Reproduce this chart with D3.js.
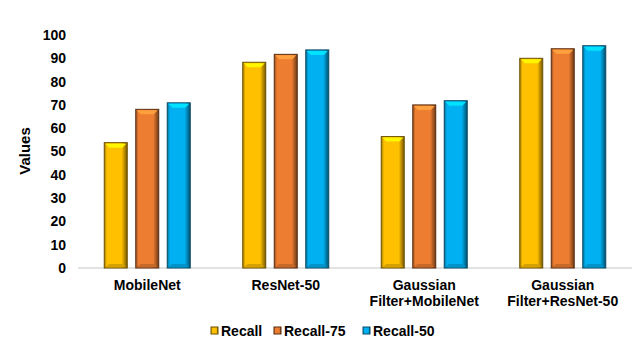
<!DOCTYPE html>
<html>
<head>
<meta charset="utf-8">
<script src="https://cdn.jsdelivr.net/npm/d3@7"></script>
<style>
  body { margin: 0; background: #fff; }
  text { font-family: "Liberation Sans", Arial, sans-serif; font-weight: bold; fill: #000; }
</style>
</head>
<body>
<div class="chart"></div>
<script>
const categories = [["MobileNet"], ["ResNet-50"], ["Gaussian", "Filter+MobileNet"], ["Gaussian", "Filter+ResNet-50"]];
const seriesNames = ["Recall", "Recall-75", "Recall-50"];
const recall   = [53.8, 88.3, 56.4, 90.0];
const recall75 = [68.1, 91.7, 70.0, 94.1];
const recall50 = [70.9, 93.6, 71.8, 95.4];
const yTicks = [0, 10, 20, 30, 40, 50, 60, 70, 80, 90, 100];

const colors = ["#FFC000", "#ED7D31", "#00B0F0"];
const darks  = ["#6b5000", "#5a2d10", "#0a4a66"];

const margin = ({top: 35, right: 9, bottom: 84, left: 78});
const width = 641 - margin.left - margin.right;
const height = 352 - margin.top - margin.bottom;

const svg = d3.select('.chart').append('svg')
    .attr("width", 641)
    .attr("height", 352);

const defs = svg.append("defs");
colors.forEach((c, i) => {
    const g = defs.append("linearGradient").attr("id", "grad" + i)
        .attr("x1", "0").attr("x2", "1").attr("y1", "0").attr("y2", "0");
    g.append("stop").attr("offset", "0%").attr("stop-color", d3.color(c).darker(1.2));
    g.append("stop").attr("offset", "12%").attr("stop-color", c);
    g.append("stop").attr("offset", "76%").attr("stop-color", c);
    g.append("stop").attr("offset", "100%").attr("stop-color", d3.color(c).darker(2.2));
});

const plot = svg.append("g")
    .attr("transform", "translate(" + margin.left + "," + margin.top + ")");

const data = categories.map((c, i) => ({cat: i, values: [recall[i], recall75[i], recall50[i]]}));

const xScale = d3.scaleBand()
    .domain(d3.range(categories.length))
    .range([0, width]);

const xInner = d3.scaleBand()
    .domain(d3.range(seriesNames.length))
    .range([0, 86])
    .paddingInner(0.27);

const yScale = d3.scaleLinear()
    .domain([0, 100])
    .range([height, 0]);

// y axis (labels only)
const yAxis = d3.axisLeft(yScale).tickValues(yTicks).tickSize(0).tickPadding(12);
const yg = plot.append("g").call(yAxis);
yg.select(".domain").remove();
yg.selectAll("text").attr("font-size", "14px").style("font-family", null);

// x axis line
plot.append("line")
    .attr("x1", 0).attr("x2", width)
    .attr("y1", height).attr("y2", height)
    .attr("stroke", "#d9d9d9").attr("stroke-width", 1.5);

// bars
const groups = plot.selectAll(".grp")
    .data(data)
    .enter().append("g")
    .attr("class", "grp")
    .attr("transform", d => `translate(${xScale(d.cat) + xScale.bandwidth() / 2 - 43},0)`);

const bars = groups.selectAll(".bar")
    .data(d => d.values.map((v, s) => ({v, s})))
    .enter().append("g")
    .attr("class", "bar");

bars.append("rect")
    .attr("x", d => xInner(d.s))
    .attr("y", d => yScale(d.v))
    .attr("width", xInner.bandwidth())
    .attr("height", d => height - yScale(d.v))
    .attr("fill", d => `url(#grad${d.s})`)
    .attr("stroke", d => darks[d.s])
    .attr("stroke-width", 1);

// top bevel highlight
bars.append("path")
    .attr("d", d => {
        const x0 = xInner(d.s), w = xInner.bandwidth(), y0 = yScale(d.v);
        return `M${x0 + 1},${y0 + 1} L${x0 + w - 1},${y0 + 1} L${x0 + w - 5},${y0 + 5} L${x0 + 5},${y0 + 5} Z`;
    })
    .attr("fill", d => d3.color(colors[d.s]).brighter(0.7));

// bottom bevel
bars.append("path")
    .attr("d", d => {
        const x0 = xInner(d.s), w = xInner.bandwidth(), y1 = height;
        return `M${x0 + 1},${y1 - 1} L${x0 + w - 1},${y1 - 1} L${x0 + w - 5},${y1 - 4} L${x0 + 5},${y1 - 4} Z`;
    })
    .attr("fill", d => d3.color(colors[d.s]).darker(0.5));

// category labels, one text per line
categories.forEach((lines, i) => {
    lines.forEach((line, j) => {
        plot.append("text")
            .attr("class", "cat")
            .attr("text-anchor", "middle")
            .attr("font-size", "14px")
            .attr("x", xScale(i) + xScale.bandwidth() / 2)
            .attr("y", height + 22 + j * 16)
            .text(line);
    });
});

// y axis title
svg.append("text")
    .attr("transform", "translate(30,151) rotate(-90)")
    .attr("text-anchor", "middle")
    .attr("font-size", "15px")
    .text("Values");

// legend
const legendX = [211, 274, 363];
const legend = svg.selectAll(".legend")
    .data(seriesNames)
    .enter().append("g")
    .attr("class", "legend")
    .attr("transform", (d, i) => `translate(${legendX[i]},331)`);
legend.append("rect")
    .attr("x", 0).attr("y", -4)
    .attr("width", 7).attr("height", 7)
    .attr("fill", (d, i) => `url(#grad${i})`)
    .attr("stroke", (d, i) => darks[i]);
legend.append("text")
    .attr("x", 10)
    .attr("y", 5)
    .attr("font-size", "14px")
    .text(d => d);
</script>
</body>
</html>
